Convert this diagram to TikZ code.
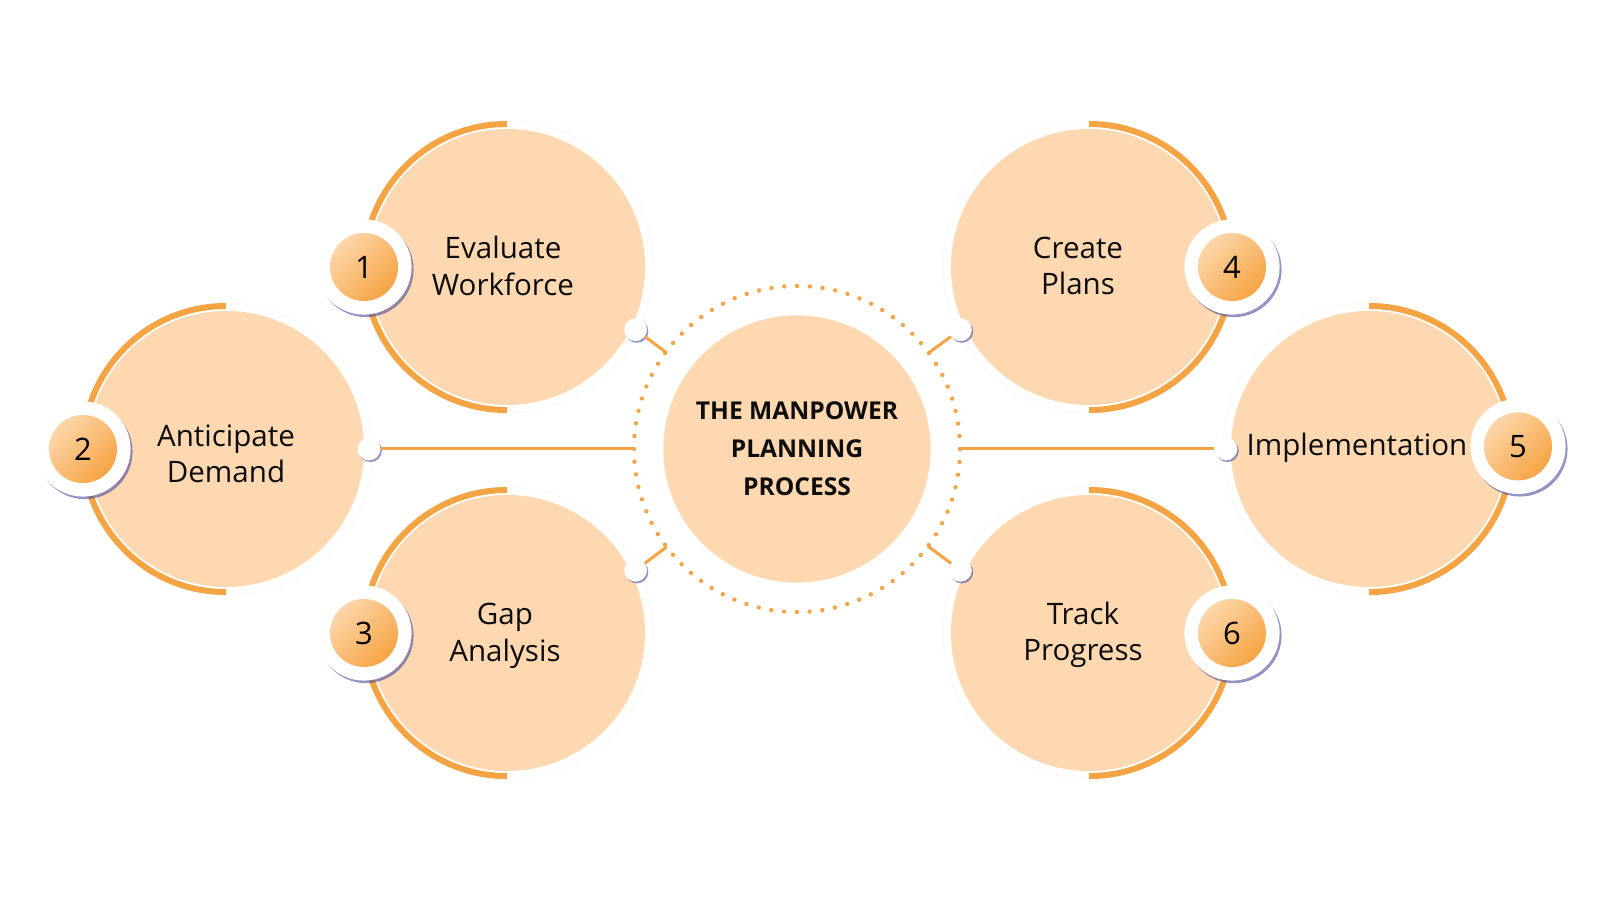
\documentclass[tikz,border=0pt]{standalone}
\usepackage{fontspec}
\setmainfont{Open Sans}
\usetikzlibrary{calc,shadows}
\definecolor{peach}{HTML}{FDD8B0}
\definecolor{tangerine}{HTML}{F5A443}
\definecolor{peachlight}{HTML}{FDD6AA}
\definecolor{haze}{HTML}{4B4BA0}
\begin{document}
\begin{tikzpicture}[x=0.025cm,y=0.025cm,
  bubble/.style={circle,fill=peach,minimum size=6.9cm,inner sep=0pt},
  rim/.style={tangerine,line width=0.15cm},
  badge/.style={circle,fill=white,minimum size=2.38cm,inner sep=0pt,
    drop shadow={shadow xshift=1.4pt,shadow yshift=-1.8pt,fill=haze,opacity=0.6}},
  badgecore/.style={circle,minimum size=1.7cm,inner sep=0pt,top color=peachlight,
    bottom color=tangerine,shading angle=45,font=\fontsize{22}{26}\selectfont},
  knob/.style={circle,fill=white,minimum size=0.57cm,inner sep=0pt,
    drop shadow={shadow xshift=1pt,shadow yshift=-1.2pt,fill=haze,opacity=0.6}},
  link/.style={tangerine,line width=0.075cm},
  steptext/.style={align=center,text=black!95,font=\fontsize{21}{26}\selectfont}]
\useasboundingbox (0,0) rectangle (1600,900);
\foreach \n/\x/\y in {1/507/633,2/226/451,3/507/267,4/1089/633,5/1369/451,6/1089/267}{
  \draw[black!3,line width=0.6pt] (\x,\y) circle[radius=3.65cm];
  \node[bubble] (c\n) at (\x,\y) {};
}
\foreach \n in {1,2,3}
  \draw[rim] (c\n) ++(0,143) arc[start angle=90,end angle=270,radius=3.575cm];
\foreach \n in {4,5,6}
  \draw[rim] (c\n) ++(0,143) arc[start angle=90,end angle=-90,radius=3.575cm];
\node[bubble,minimum size=6.68cm,align=center,text=black!95,
  font=\bfseries\fontsize{17.5}{27}\selectfont] (hub) at (797,451)
  {THE MANPOWER\\PLANNING\\PROCESS};
\node[circle,minimum size=8.15cm,inner sep=0pt,outer sep=0pt,draw=tangerine,
  line width=0.11cm,line cap=round,dash pattern=on 0pt off 0.32cm] (ring) at (hub) {};
\foreach \n/\a in {1/-26,2/0,3/26,4/206,5/180,6/154}{
  \node[knob] (d\n) at ($(c\n)+(\a:3.575cm)$) {};
  \draw[link] (d\n) -- (ring);
}
\foreach \n/\a/\r in {1/180/143,2/180/143,3/180/143,4/0/143,5/1/149,6/0/143}{
  \node[badge] (b\n) at ($(c\n)+(\a:\r)$) {};
  \node[badgecore] (n\n) at (b\n) {\n};
}
\node[steptext] (t1) at (503,634) {Evaluate\\Workforce};
\node[steptext] (t2) at (226,446) {Anticipate\\Demand};
\node[steptext] (t3) at (505,264) {Gap\\Analysis};
\node[steptext] (t4) at (1078,634) {Create\\Plans};
\node[steptext] (t5) at (1357,452) {Implementation};
\node[steptext] (t6) at (1083,265) {Track\\Progress};
\end{tikzpicture}
\end{document}
